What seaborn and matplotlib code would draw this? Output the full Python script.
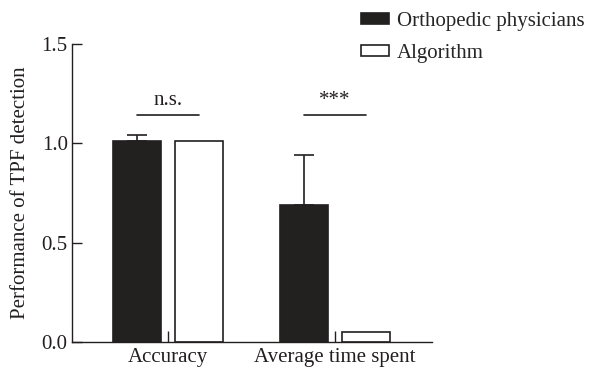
import pandas as pd
import seaborn as sns
import matplotlib.pyplot as plt

categories = ['Accuracy', 'Average time spent']
groups = ['Orthopedic physicians', 'Algorithm']
physicians = [1.01, 0.69]
physicians_err = [0.03, 0.25]
algorithm = [1.01, 0.05]
sig_labels = ['n.s.', '***']

dark = '#231f20'

sns.set_style('ticks')
plt.rcParams['font.family'] = ['Liberation Serif', 'DejaVu Serif']
plt.rcParams['font.size'] = 15

data = pd.DataFrame({
    'metric': categories * 2,
    'value': physicians + algorithm,
    'group': [groups[0]] * len(categories) + [groups[1]] * len(categories),
})

fig = plt.figure(figsize=(5.89, 3.69), dpi=100)
ax = fig.add_axes([0.122, 0.073, 0.611, 0.808])
sns.barplot(data=data, x='metric', y='value', hue='group',
            palette={groups[0]: dark, groups[1]: 'white'},
            edgecolor=dark, linewidth=1.2, width=0.745, gap=0.23,
            errorbar=None, ax=ax)

# upper-only error bars on the physician bars
xs = [p.get_x() + p.get_width() / 2 for p in ax.containers[0]]
ax.errorbar(xs, physicians, yerr=[[0] * len(physicians), physicians_err],
            fmt='none', ecolor=dark, elinewidth=1.2, capsize=7.5, capthick=1.2)

# significance brackets
xs_alg = [p.get_x() + p.get_width() / 2 for p in ax.containers[1]]
for x0, x1, lab in zip(xs, xs_alg, sig_labels):
    ax.plot([x0, x1], [1.14, 1.14], color=dark, lw=1.2)
    ax.text((x0 + x1) / 2, 1.17, lab, ha='center', va='bottom', fontsize=15, color=dark)

ax.set_xlim(-0.575, 1.58)
ax.set_ylim(0, 1.5)
ax.set_yticks([0, 0.5, 1.0, 1.5])
ax.set_yticklabels(['0.0', '0.5', '1.0', '1.5'])
ax.tick_params(axis='y', direction='in', length=7, width=1, colors=dark, labelsize=15, pad=3)
ax.tick_params(axis='x', direction='in', length=8, width=1, colors=dark, labelsize=15, pad=4)
ax.set_xlabel('')
ax.set_ylabel('Performance of TPF detection', fontsize=15, color=dark, labelpad=8)
for s in ['top', 'right']:
    ax.spines[s].set_visible(False)
for s in ['left', 'bottom']:
    ax.spines[s].set_color(dark)
    ax.spines[s].set_linewidth(1)

ax.legend(loc='upper left', bbox_to_anchor=(0.598, 0.99), bbox_transform=fig.transFigure,
          frameon=False, fontsize=15, handlelength=1.35, handleheight=0.45,
          labelspacing=0.6, handletextpad=0.4, borderaxespad=0)

plt.savefig('out.png', dpi=100)
plt.close()
